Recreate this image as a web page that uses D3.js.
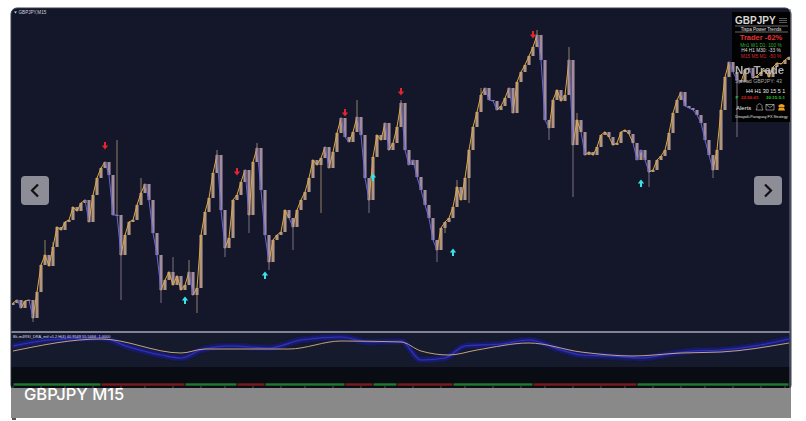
<!DOCTYPE html>
<html><head><meta charset="utf-8">
<script src="https://cdn.jsdelivr.net/npm/d3@7"></script>
<style>html,body{margin:0;padding:0;background:#fff;} svg{display:block;}</style>
</head><body>
<svg id="c" width="806" height="421"></svg>
<script>
// ---------------- DATA ----------------
const symbolLabel = "GBPJPY,M15";
const captionText = "GBPJPY M15";
const indicatorLabel = "Bk-m4RSI_DRA_mtf v1.2 H(4) 40.9549 55.5466 -1.0000";
const firstOpen = 184.95;
const closes = [
 184.97,185.00,184.92,184.99,185.00,184.82,185.08,185.35,185.45,185.34,
 185.53,185.73,185.70,185.78,185.80,185.93,185.89,185.97,186.00,185.78,
 186.05,186.22,186.32,186.38,186.25,185.85,185.85,185.45,185.65,185.78,
 185.80,185.95,186.07,186.16,186.00,185.67,185.45,185.10,185.20,185.28,
 185.15,185.24,185.10,185.15,185.28,185.05,185.12,185.65,185.88,186.02,
 186.27,186.45,185.90,185.52,185.62,186.00,186.05,186.18,186.30,185.85,
 186.38,186.52,186.10,185.65,185.38,185.60,185.65,185.68,185.90,185.82,
 185.73,185.90,186.00,186.08,186.22,186.40,186.35,186.42,186.53,186.32,
 186.48,186.67,186.82,186.63,186.58,186.68,186.83,186.65,186.22,186.00,
 186.43,186.65,186.60,186.77,186.50,186.57,186.73,186.97,186.50,186.35,
 186.40,186.23,186.10,185.95,185.82,185.60,185.50,185.72,185.78,185.82,
 185.93,186.13,186.00,186.22,186.50,186.73,186.88,187.05,187.12,187.00,
 186.99,186.90,186.94,187.02,187.12,186.87,187.18,187.28,187.35,187.44,
 187.53,187.65,187.40,186.80,186.72,187.00,187.10,186.99,187.05,187.40,
 186.55,186.80,186.68,186.45,186.48,186.45,186.53,186.65,186.68,186.63,
 186.55,186.57,186.68,186.70,186.66,186.57,186.40,186.50,186.40,186.28,
 186.30,186.40,186.44,186.50,186.67,186.87,187.00,187.08,186.94,186.92,
 186.90,186.85,186.77,186.60,186.45,186.30,186.50,186.90,187.23,187.38,
 187.28,187.20,187.18,187.30,187.32,187.22,187.24,187.28,187.30,187.23,
 187.33,187.37,187.36,187.40,187.43
];
// [candle index, high, low] for visible long wicks
const spikes = [
 [5,null,184.78],[8,185.60,null],[10,185.58,null],[26,186.60,null],[27,null,185.00],
 [32,186.22,null],[37,null,184.97],[40,185.43,null],[44,185.40,null],[46,null,184.87],
 [51,186.50,null],[53,null,185.43],[59,null,185.67],[61,186.57,null],[64,null,185.30],
 [70,null,185.50],[77,null,185.87],[86,187.00,null],[89,null,185.87],[97,187.00,null],
 [106,null,185.38],[108,null,185.67],[111,186.20,null],[114,null,185.97],[117,187.12,null],
 [128,187.33,null],[131,187.70,null],[134,null,186.60],[139,187.53,null],[140,null,186.03],
 [141,186.87,null],[159,null,186.13],[175,null,186.22],[181,null,186.63]
];
const sellSignals = [[23,186.54],[56,186.28],[83,186.87],[97,187.08],[130,187.65]];
const buySignals  = [[43,185.00],[63,185.25],[90,186.23],[110,185.48],[157,186.17]];
const downLegs = [[1,2],[4,5],[18,19],[23,27],[33,37],[44,45],[51,53],[58,59],[61,64],[69,70],
 [78,79],[82,84],[86,89],[93,94],[97,106],[118,121],[124,125],[131,134],[139,140],[142,143],
 [155,159],[167,175],[179,182],[184,185]];
const slowIdx  = [0,22,42,48,69,82,97,102,109,116,129,142,155,167,177,194];
const slowVals = [50,80,45,55,55,75,72.5,50,40,52.5,70,47.5,37.5,45,47.5,70];
const fastIdx  = [0,9,22,29,37,42,47,54,64,72,82,89,97,102,108,113,122,129,137,142,149,157,164,170,177,187,194];
const fastVals = [62.5,77.5,82.5,60,40,32.5,52.5,62.5,57.5,77.5,85,72.5,75,27.5,32.5,62.5,67.5,77.5,52.5,40,37.5,32.5,42.5,50,52.5,65,80];
const trendStrip = [["up",0,22],["dn",22,43],["up",43,56],["dn",56,63],["up",63,83],["dn",83,90],
 ["up",90,96],["dn",96,110],["up",110,130],["dn",130,156],["up",156,194]];
const timeTicks = [0,7,13,20,27,33,40,47,53,60,67,73,80,87,93,100,107,113,120,127,133,140,147,153,160,167,173,180,187,193];
const panelLines = [
 {t:"Tispa Power Trends", c:"#e0e0e0", s:4.6, y:30.5},
 {t:"Trader -62%", c:"#e03434", s:7.5, y:40, w:"bold"},
 {t:"Mn1 W1 D1: 100 %", c:"#2fb52f", s:4.8, y:46.5},
 {t:"H4 H1 M30: -33 %", c:"#dedede", s:4.8, y:52},
 {t:"M15 M5 M1: -50 %", c:"#d42a2a", s:4.8, y:57.5}
];

// ---------------- DRAW ----------------
const svg = d3.select("#c");
const n = closes.length;
const x = d3.scaleLinear().domain([0, n-1]).range([13, 789]);
const y = d3.scaleLinear().domain([184.70, 187.90]).range([330, 10]);
const yi = d3.scaleLinear().domain([0, 100]).range([371, 331]);

// card
svg.append("rect").attr("x",11).attr("y",8).attr("width",780).attr("height",383).attr("rx",6)
  .attr("fill","#131729").attr("stroke","#3a3e4c").attr("stroke-width",1);
svg.append("rect").attr("x",11.5).attr("y",333).attr("width",779).attr("height",34).attr("fill","#151a2c");
svg.append("rect").attr("x",11.5).attr("y",367).attr("width",779).attr("height",22).attr("fill","#0a0c13");
svg.append("line").attr("x1",11.5).attr("x2",790).attr("y1",332).attr("y2",332).attr("stroke","#a7a9b8").attr("stroke-width",1.6);
svg.append("line").attr("x1",790).attr("x2",790).attr("y1",9).attr("y2",389).attr("stroke","#6c6f7e").attr("stroke-width",1);

// clip
const defs = svg.append("defs");
defs.append("clipPath").attr("id","main").append("rect").attr("x",12).attr("y",10).attr("width",778).attr("height",321);
defs.append("clipPath").attr("id","ind").append("rect").attr("x",12).attr("y",333).attr("width",778).attr("height",34);
defs.append("filter").attr("id","soft").append("feGaussianBlur").attr("stdDeviation",1.2);

// top-left label
svg.append("path").attr("d","M14,11.5 L17,11.5 L15.5,13.5 Z").attr("fill","#cfd2dc");
svg.append("text").attr("x",18.5).attr("y",14).attr("font-family","Liberation Sans, Arial").attr("font-size",4.6)
  .attr("fill","#cfd2dc").text(symbolLabel);

// info panel bg
svg.append("rect").attr("x",732).attr("y",12).attr("width",58).attr("height",110).attr("fill","#020203");

// candles
const spikeMap = new Map(spikes.map(s => [s[0], s]));
const candles = closes.map((c,i) => {
  const o = i ? closes[i-1] : firstOpen;
  let h = Math.max(o,c), l = Math.min(o,c);
  const s = spikeMap.get(i);
  if (s) { if (s[1] != null) h = Math.max(h, s[1]); if (s[2] != null) l = Math.min(l, s[2]); }
  return {i,o,c,h,l,up:c>=o};
});
const gMain = svg.append("g").attr("clip-path","url(#main)");
gMain.selectAll("line.wick").data(candles).join("line").attr("class","wick")
  .attr("x1",d=>x(d.i)).attr("x2",d=>x(d.i)).attr("y1",d=>y(d.h)).attr("y2",d=>y(d.l))
  .attr("stroke",d=>d.up?"#bfa27e":"#a08fa8").attr("stroke-width",1).attr("opacity",0.75);
gMain.selectAll("rect.body").data(candles).join("rect").attr("class","body")
  .attr("x",d=>x(d.i)-1.6).attr("width",3.2)
  .attr("y",d=>y(Math.max(d.o,d.c))).attr("height",d=>Math.max(1,Math.abs(y(d.o)-y(d.c))))
  .attr("fill",d=>d.up?"#c9a890":"#b8a0b0").attr("opacity",0.8);

// trend line
const isDown = i => downLegs.some(([a,b]) => i >= a && i < b);
const segs = d3.range(n-1).map(i => ({i, down:isDown(i)}));
gMain.selectAll("line.seg").data(segs).join("line").attr("class","seg")
  .attr("x1",d=>x(d.i)).attr("x2",d=>x(d.i+1)).attr("y1",d=>y(closes[d.i])).attr("y2",d=>y(closes[d.i+1]))
  .attr("stroke",d=>d.down?"#6767d6":"#dcaa46").attr("stroke-width",1).attr("stroke-linecap","round");

// signals
gMain.selectAll("path.sell").data(sellSignals).join("path").attr("class","sell")
  .attr("transform",d=>`translate(${x(d[0])},${y(d[1])})`)
  .attr("d","M-1,-4 L1,-4 L1,-0.5 L3.2,-0.5 L0,3.5 L-3.2,-0.5 L-1,-0.5 Z").attr("fill","#e3262e");
gMain.selectAll("path.buy").data(buySignals).join("path").attr("class","buy")
  .attr("transform",d=>`translate(${x(d[0])},${y(d[1])})`)
  .attr("d","M-1,4 L1,4 L1,0.5 L3.2,0.5 L0,-3.5 L-3.2,0.5 L-1,0.5 Z").attr("fill","#38e2e8");

// info panel text
const fp = "Liberation Sans, Arial, sans-serif";
svg.append("text").attr("x",735).attr("y",23.5).attr("font-family",fp).attr("font-size",10).attr("font-weight","bold")
  .attr("fill","#d6d6d6").text("GBPJPY");
[18.5,20.5,22.5].forEach(v => svg.append("line").attr("x1",779).attr("x2",787).attr("y1",v).attr("y2",v).attr("stroke","#9a9a9a").attr("stroke-width",0.6));
svg.append("line").attr("x1",735).attr("x2",788).attr("y1",26).attr("y2",26).attr("stroke","#d0d0d0").attr("stroke-width",0.5);
svg.append("line").attr("x1",735).attr("x2",788).attr("y1",32).attr("y2",32).attr("stroke","#d0d0d0").attr("stroke-width",0.5);
panelLines.forEach(p => svg.append("text").attr("x",761).attr("y",p.y).attr("text-anchor","middle")
  .attr("font-family",fp).attr("font-size",p.s).attr("font-weight",p.w||"normal").attr("fill",p.c).text(p.t));
svg.append("text").attr("x",735).attr("y",74).attr("font-family",fp).attr("font-size",11.5).attr("font-weight","bold")
  .attr("fill","#bdbdbd").attr("opacity",0.92).text("No Trade");
svg.append("text").attr("x",735).attr("y",83).attr("font-family",fp).attr("font-size",5.2).attr("fill","#a9a9a9").text("Spread GBPJPY: 43");
svg.append("text").attr("x",746).attr("y",92.5).attr("font-family",fp).attr("font-size",5.4).attr("fill","#f0f0f0").text("H4 H1 30 15 5 1");
svg.append("text").attr("x",735.5).attr("y",99).attr("font-family",fp).attr("font-size",4.4).attr("font-weight","bold").attr("fill","#2fc02f").text("P");
svg.append("text").attr("x",741).attr("y",99).attr("font-family",fp).attr("font-size",4.4).attr("font-weight","bold").attr("fill","#e02020").text("22:56:01");
svg.append("text").attr("x",766).attr("y",99).attr("font-family",fp).attr("font-size",4.4).attr("font-weight","bold").attr("fill","#2fc02f").text("30:15:5:1");
svg.append("text").attr("x",736).attr("y",110).attr("font-family",fp).attr("font-size",6).attr("fill","#e8e8e8").text("Alerts");
svg.append("path").attr("d","M756,110 L763,110 L762,108 L762,105.5 Q759.5,102 757,105.5 L757,108 Z").attr("fill","none").attr("stroke","#cfcfcf").attr("stroke-width",0.6);
svg.append("rect").attr("x",766).attr("y",104.5).attr("width",8).attr("height",5.5).attr("fill","none").attr("stroke","#cfcfcf").attr("stroke-width",0.6);
svg.append("path").attr("d","M766,104.5 L770,107.5 L774,104.5").attr("fill","none").attr("stroke","#cfcfcf").attr("stroke-width",0.6);
svg.append("path").attr("d","M778,106 Q781.5,102 785,106 L784,107 L779,107 Z M779,107.5 L784,107.5 L785,110.5 L778,110.5 Z").attr("fill","#f0a020");
svg.append("text").attr("x",761.5).attr("y",118).attr("text-anchor","middle").attr("font-family",fp).attr("font-size",3.8).attr("fill","#e0e0e0").text("Dinapoli-Paraguay FX Strategy");

// indicator
const gInd = svg.append("g").attr("clip-path","url(#ind)");
const lineI = d3.line().curve(d3.curveMonotoneX).x(d=>x(d[0])).y(d=>yi(d[1]));
const fastPts = fastIdx.map((v,k)=>[v,fastVals[k]]);
const slowPts = slowIdx.map((v,k)=>[v,slowVals[k]]);
gInd.append("path").attr("d",lineI(fastPts)).attr("fill","none").attr("stroke","#1a1e96").attr("stroke-width",5).attr("opacity",0.8).attr("filter","url(#soft)");
gInd.append("path").attr("d",lineI(fastPts)).attr("fill","none").attr("stroke","#3034b4").attr("stroke-width",1.2);
gInd.append("path").attr("d",lineI(slowPts)).attr("fill","none").attr("stroke","#c2a27a").attr("stroke-width",1);
svg.append("text").attr("x",13).attr("y",337.5).attr("font-family",fp).attr("font-size",3.9).attr("fill","#d8d8e0").text(indicatorLabel);

// trend strip & time ticks
svg.selectAll("rect.strip").data(trendStrip).join("rect").attr("class","strip")
  .attr("x",d=>x(d[1])+0.5).attr("width",d=>x(d[2])-x(d[1])-1).attr("y",383.3).attr("height",2.4)
  .attr("fill",d=>d[0]==="up"?"#1f7a2f":"#7c1a20");
svg.selectAll("line.tt").data(timeTicks).join("line").attr("class","tt")
  .attr("x1",d=>x(d)).attr("x2",d=>x(d)).attr("y1",386).attr("y2",389).attr("stroke","#4d5060").attr("stroke-width",1);

// caption overlay
svg.append("rect").attr("x",11).attr("y",388).attr("width",780).attr("height",30).attr("fill","#898989");
svg.append("text").attr("x",24).attr("y",399.5).attr("font-family","Inter, 'Open Sans', sans-serif").attr("font-size",16.5)
  .attr("font-weight",500).attr("fill","#ffffff").text(captionText);
svg.append("rect").attr("x",12).attr("y",418).attr("width",4).attr("height",2).attr("fill","#555");

// nav buttons
function navBtn(x0, dir){
  svg.append("rect").attr("x",x0).attr("y",176).attr("width",28).attr("height",29).attr("rx",4).attr("fill","#8c8d97");
  const cx = x0+14, cy = 190.5;
  const d = dir<0 ? `M${cx+3},${cy-6} L${cx-3},${cy} L${cx+3},${cy+6}` : `M${cx-3},${cy-6} L${cx+3},${cy} L${cx-3},${cy+6}`;
  svg.append("path").attr("d",d).attr("fill","none").attr("stroke","#111").attr("stroke-width",2.2);
}
navBtn(21,-1); navBtn(754,1);
</script>
</body></html>
